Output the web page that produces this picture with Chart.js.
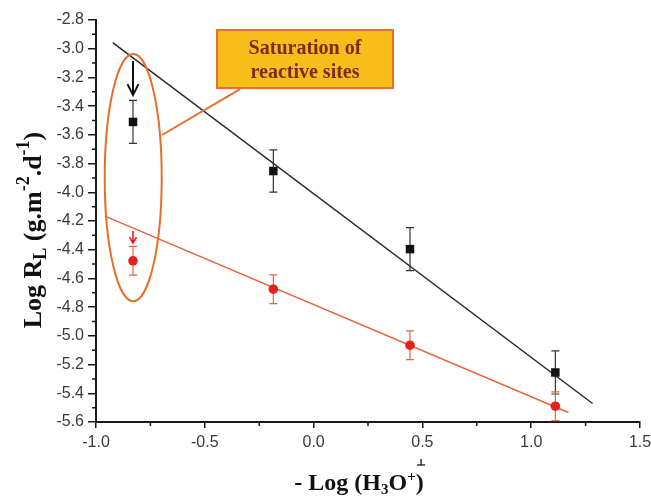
<!DOCTYPE html>
<html>
<head>
<meta charset="utf-8">
<script src="https://cdn.jsdelivr.net/npm/chart.js@4.4.1/dist/chart.umd.min.js"></script>
<style>
  html, body { margin: 0; padding: 0; background: #fff; }
</style>
</head>
<body>
<canvas id="chart" width="651" height="496"></canvas>
<script>
// values
const phValues = [-0.83, -0.185, 0.443, 1.111];
const blackRates = [-3.51, -3.852, -4.396, -5.255];
const blackErrors = [0.15, 0.147, 0.15, 0.15];
const redRates = [-4.477, -4.675, -5.065, -5.49];
const redErrors = [0.1, 0.1, 0.1, 0.1];
const blackFitX = [-0.923, 1.282];
const blackFitY = [-2.958, -5.471];
const redFitX = [-0.959, 1.171];
const redFitY = [-4.166, -5.534];
const xTicks = [-1.0, -0.5, 0.0, 0.5, 1.0, 1.5];
const yTicks = [-2.8, -3.0, -3.2, -3.4, -3.6, -3.8, -4.0, -4.2, -4.4, -4.6, -4.8, -5.0, -5.2, -5.4, -5.6];
const calloutLines = ["Saturation of", "reactive sites"];

const ORANGE = "#e4702e";
const RED = "#e3201b";
const AXIS = "#1a1a1a";
const SERIF = "'Liberation Serif', 'Times New Roman', serif";

function pts(xs, ys) {
  return xs.map((x, i) => ({ x: x, y: ys[i] }));
}

function drawRich(ctx, segs, x, y, align) {
  let total = 0;
  segs.forEach(s => {
    ctx.font = "bold " + s.size + "px " + SERIF;
    s.w = ctx.measureText(s.t).width;
    total += s.w;
  });
  let cx = align === "center" ? x - total / 2 : x;
  segs.forEach(s => {
    ctx.font = "bold " + s.size + "px " + SERIF;
    ctx.fillText(s.t, cx, y + (s.dy || 0));
    cx += s.w;
  });
}

const extras = {
  id: "extras",
  beforeDatasetsDraw(chart) {
    const ctx = chart.ctx, xs = chart.scales.x, ys = chart.scales.y;
    const bars = [
      { vals: blackRates, errs: blackErrors, color: "#333" },
      { vals: redRates, errs: redErrors, color: "#e8643c" }
    ];
    ctx.save();
    ctx.lineWidth = 1.2;
    bars.forEach(b => {
      ctx.strokeStyle = b.color;
      b.vals.forEach((v, i) => {
        const px = xs.getPixelForValue(phValues[i]);
        const top = ys.getPixelForValue(v + b.errs[i]);
        const bot = ys.getPixelForValue(v - b.errs[i]);
        ctx.beginPath();
        ctx.moveTo(px, top); ctx.lineTo(px, bot);
        ctx.moveTo(px - 4, top); ctx.lineTo(px + 4, top);
        ctx.moveTo(px - 4, bot); ctx.lineTo(px + 4, bot);
        ctx.stroke();
      });
    });
    ctx.restore();
  },
  afterDraw(chart) {
    const ctx = chart.ctx, xs = chart.scales.x, ys = chart.scales.y;
    const area = chart.chartArea;
    const X = v => xs.getPixelForValue(v), Y = v => ys.getPixelForValue(v);
    ctx.save();

    // minor ticks
    ctx.strokeStyle = AXIS;
    ctx.lineWidth = 1.5;
    ctx.beginPath();
    for (let i = 0; i < yTicks.length - 1; i++) {
      const py = Y((yTicks[i] + yTicks[i + 1]) / 2);
      ctx.moveTo(area.left - 4, py); ctx.lineTo(area.left, py);
    }
    for (let i = 0; i < xTicks.length - 1; i++) {
      const px = X((xTicks[i] + xTicks[i + 1]) / 2);
      ctx.moveTo(px, area.bottom); ctx.lineTo(px, area.bottom + 4);
    }
    ctx.stroke();

    // ellipse round the saturated points
    ctx.strokeStyle = ORANGE;
    ctx.lineWidth = 2;
    const ecx = X(-0.829), ecy = Y(-3.898);
    const erx = X(-0.829 + 0.131) - ecx, ery = Y(-3.898 - 0.861) - ecy;
    ctx.beginPath();
    ctx.ellipse(ecx, ecy, erx, ery, 0, 0, Math.PI * 2);
    ctx.stroke();

    // connector to callout
    ctx.beginPath();
    ctx.moveTo(X(-0.338), Y(-3.281));
    ctx.lineTo(X(-0.697), Y(-3.601));
    ctx.stroke();

    // callout box
    const bx1 = X(-0.444), bx2 = X(0.365), by1 = Y(-2.87), by2 = Y(-3.274);
    ctx.fillStyle = "#f8bd18";
    ctx.fillRect(bx1, by1, bx2 - bx1, by2 - by1);
    ctx.strokeStyle = ORANGE;
    ctx.lineWidth = 2;
    ctx.strokeRect(bx1, by1, bx2 - bx1, by2 - by1);
    ctx.fillStyle = "#7b2b16";
    ctx.font = "bold 20px " + SERIF;
    ctx.textAlign = "center";
    ctx.textBaseline = "middle";
    const bcx = (bx1 + bx2) / 2;
    ctx.fillText(calloutLines[0], bcx, by1 + 19);
    ctx.fillText(calloutLines[1], bcx, by1 + 43);

    // arrows
    const arrow = (x, y1, y2, color, hw, hh, lw) => {
      const px = X(x), p1 = Y(y1), p2 = Y(y2);
      ctx.strokeStyle = color;
      ctx.lineWidth = lw;
      ctx.beginPath();
      ctx.moveTo(px, p1); ctx.lineTo(px, p2);
      ctx.moveTo(px - hw, p2 - hh); ctx.lineTo(px, p2); ctx.lineTo(px + hw, p2 - hh);
      ctx.stroke();
    };
    arrow(-0.83, -3.086, -3.323, "#111", 5.5, 11, 2);
    arrow(-0.83, -4.27, -4.354, RED, 3.5, 6, 1.6);

    // small stray mark under the 0.5 label
    ctx.strokeStyle = "#333";
    ctx.lineWidth = 1.5;
    ctx.beginPath();
    ctx.moveTo(X(0.494), area.bottom + 37); ctx.lineTo(X(0.494), area.bottom + 43);
    ctx.moveTo(X(0.494) - 4, area.bottom + 43); ctx.lineTo(X(0.494) + 4, area.bottom + 43);
    ctx.stroke();

    // axis titles
    ctx.fillStyle = "#111";
    ctx.textAlign = "left";
    ctx.textBaseline = "alphabetic";
    drawRich(ctx, [
      { t: "- Log (H", size: 24 },
      { t: "3", size: 15, dy: 4 },
      { t: "O", size: 24 },
      { t: "+", size: 15, dy: -9 },
      { t: ")", size: 24 }
    ], 359, 490, "center");

    ctx.translate(41, 230);
    ctx.rotate(-Math.PI / 2);
    drawRich(ctx, [
      { t: "Log R", size: 26 },
      { t: "L", size: 18, dy: 5 },
      { t: " (g.m", size: 26 },
      { t: "-2", size: 18, dy: -12 },
      { t: ".d", size: 26 },
      { t: "-1", size: 18, dy: -12 },
      { t: ")", size: 26 }
    ], 0, 0, "center");
    ctx.restore();
  }
};

new Chart(document.getElementById("chart"), {
  type: "scatter",
  data: {
    datasets: [
      {
        data: pts(phValues, blackRates),
        pointStyle: "rect",
        pointRadius: 6,
        backgroundColor: "#111",
        borderColor: "#111",
        borderWidth: 0
      },
      {
        data: pts(phValues, redRates),
        pointStyle: "circle",
        pointRadius: 4.8,
        backgroundColor: RED,
        borderColor: RED,
        borderWidth: 0
      },
      {
        type: "line",
        data: pts(blackFitX, blackFitY),
        borderColor: "#2a2a2a",
        borderWidth: 1.5,
        pointRadius: 0,
        fill: false
      },
      {
        type: "line",
        data: pts(redFitX, redFitY),
        borderColor: "#e8643c",
        borderWidth: 1.5,
        pointRadius: 0,
        fill: false
      }
    ]
  },
  options: {
    responsive: false,
    animation: false,
    layout: { padding: { left: 0, top: 20, right: 11, bottom: 0 } },
    plugins: { legend: { display: false }, tooltip: { enabled: false } },
    scales: {
      x: {
        type: "linear",
        min: -1.0,
        max: 1.5,
        afterBuildTicks: s => { s.ticks = xTicks.map(v => ({ value: v })); },
        afterFit: s => { s.height = 74; s.paddingLeft = 0; s.paddingRight = 0; },
        grid: { drawOnChartArea: false, drawTicks: true, tickLength: 6, color: AXIS, lineWidth: 1.5 },
        border: { display: true, color: AXIS, width: 2 },
        ticks: {
          padding: 5,
          color: "#3a3a3a",
          font: { family: "'Liberation Sans', Arial, sans-serif", size: 16 },
          callback: v => v.toFixed(1),
          maxRotation: 0
        }
      },
      y: {
        type: "linear",
        min: -5.6,
        max: -2.8,
        afterBuildTicks: s => { s.ticks = yTicks.map(v => ({ value: v })); },
        afterFit: s => { s.width = 96; },
        grid: { drawOnChartArea: false, drawTicks: true, tickLength: 8, color: AXIS, lineWidth: 1.5 },
        border: { display: true, color: AXIS, width: 2 },
        ticks: {
          padding: 4,
          color: "#3a3a3a",
          font: { family: "'Liberation Sans', Arial, sans-serif", size: 16 },
          callback: v => v.toFixed(1)
        }
      }
    }
  },
  plugins: [extras]
});
</script>
</body>
</html>
